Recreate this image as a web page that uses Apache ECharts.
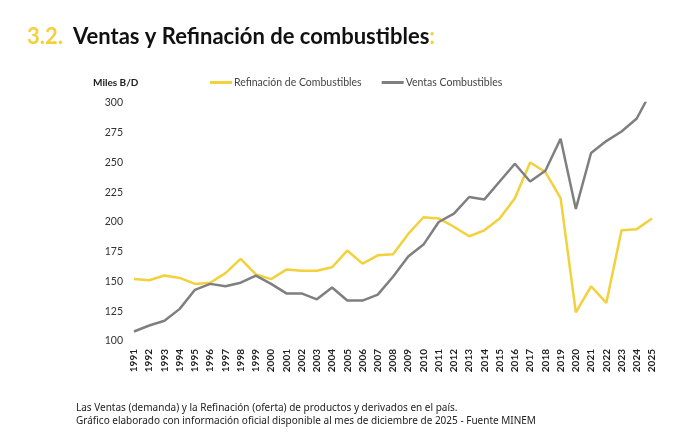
<!DOCTYPE html>
<html>
<head>
<meta charset="utf-8">
<script src="https://cdn.jsdelivr.net/npm/echarts@6/dist/echarts.min.js"></script>
<style>
  html, body { margin: 0; padding: 0; background: #fff; }
  #chart { width: 692px; height: 448px; }
</style>
</head>
<body>
<div id="chart"></div>
<script>
const years = ['1991','1992','1993','1994','1995','1996','1997','1998','1999','2000',
  '2001','2002','2003','2004','2005','2006','2007','2008','2009','2010',
  '2011','2012','2013','2014','2015','2016','2017','2018','2019','2020',
  '2021','2022','2023','2024','2025'];

const refinacion = [152, 151, 155, 153, 148, 149, 157, 169, 156, 152,
  160, 159, 159, 162, 176, 165, 172, 173, 190, 204,
  203, 196, 188, 193, 203, 220, 250, 242, 220, 124,
  146, 132, 193, 194, 203];

const ventas = [108, 113, 117, 127, 143, 148, 146, 149, 155, 148,
  140, 140, 135, 145, 134, 134, 139, 154, 171, 181,
  200, 207, 221, 219, 234, 249, 234, 243, 270, 211,
  258, 268, 276, 287, 311];

const yellow = '#F2D13C';
const grey = '#7F7F7F';
const font = 'Lato';

const chart = echarts.init(document.getElementById('chart'));

chart.setOption({
  animation: false,
  title: [
    {
      text: '{y|3.2.}  {b|Ventas y Refinación de combustibles}{y|:}',
      left: 22,
      top: 21,
      textStyle: {
        rich: {
          y: { color: yellow, fontSize: 22, fontWeight: 'bold', fontFamily: font },
          b: { color: '#111', fontSize: 22, fontWeight: 'bold', fontFamily: font }
        }
      }
    },
    {
      text: 'Miles B/D',
      left: 88,
      top: 73,
      textStyle: { fontSize: 10, fontWeight: 'bold', color: '#222', fontFamily: font }
    },
    {
      text: 'Las Ventas (demanda) y la Refinación (oferta) de productos y derivados en el país.\nGráfico elaborado con información oficial disponible al mes de diciembre de 2025 - Fuente MINEM',
      left: 71,
      top: 397,
      textStyle: { fontSize: 10, fontWeight: 'normal', color: '#222', fontFamily: 'Noto Sans', lineHeight: 13 }
    }
  ],
  legend: {
    left: 205,
    top: 72,
    itemGap: 20,
    itemWidth: 22,
    itemHeight: 3,
    icon: 'rect',
    textStyle: { fontSize: 10.5, color: '#444', fontFamily: font, padding: [0, 0, 0, -3] },
    data: ['Refinación de Combustibles', 'Ventas Combustibles']
  },
  grid: { left: 134, right: 40, top: 103, bottom: 107 },
  xAxis: {
    type: 'category',
    data: years,
    boundaryGap: false,
    axisLine: { show: false },
    axisTick: { show: false },
    axisLabel: {
      rotate: 90,
      interval: 0,
      margin: 8,
      fontSize: 10,
      fontWeight: 'bold',
      color: '#222',
      fontFamily: font
    }
  },
  yAxis: {
    type: 'value',
    min: 100,
    max: 300,
    interval: 25,
    axisLine: { show: false },
    axisTick: { show: false },
    splitLine: { show: false },
    axisLabel: { margin: 11, fontSize: 10.5, color: '#333', fontFamily: font }
  },
  series: [
    {
      name: 'Refinación de Combustibles',
      type: 'line',
      data: refinacion,
      symbol: 'none',
      lineStyle: { color: yellow, width: 2.5 },
      itemStyle: { color: yellow }
    },
    {
      name: 'Ventas Combustibles',
      type: 'line',
      data: ventas,
      symbol: 'none',
      lineStyle: { color: grey, width: 2.5 },
      itemStyle: { color: grey }
    }
  ]
});
</script>
</body>
</html>
